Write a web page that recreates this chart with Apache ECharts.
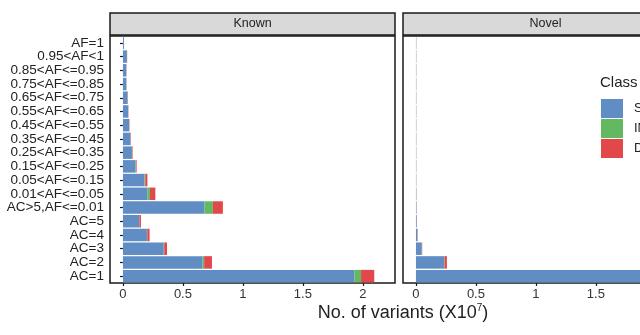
<!DOCTYPE html>
<html><head><meta charset="utf-8">
<script src="https://cdn.jsdelivr.net/npm/echarts@6/dist/echarts.min.js"></script>
<style>html,body{margin:0;padding:0;background:#fff}#c{width:640px;height:335px}</style>
</head><body><div id="c"></div>
<script>
const categories = ["AC=1","AC=2","AC=3","AC=4","AC=5","AC>5,AF<=0.01","0.01<AF<=0.05","0.05<AF<=0.15","0.15<AF<=0.25","0.25<AF<=0.35","0.35<AF<=0.45","0.45<AF<=0.55","0.55<AF<=0.65","0.65<AF<=0.75","0.75<AF<=0.85","0.85<AF<=0.95","0.95<AF<1","AF=1"];
const classNames = ["SNV","INS","DEL"];
const knownSNV = [1.93,0.664,0.34,0.2,0.135,0.68,0.205,0.18,0.105,0.075,0.062,0.052,0.043,0.038,0.028,0.028,0.033,0.008];
const knownINS = [0.055,0.013,0.004,0.003,0.002,0.07,0.02,0.006,0.003,0.002,0.001,0.001,0.001,0.001,0.001,0.001,0.001,0.0005];
const knownDEL = [0.11,0.065,0.023,0.019,0.013,0.083,0.045,0.018,0.006,0.004,0.003,0.002,0.002,0.002,0.001,0.001,0.001,0.0005];
const novelSNV = [2.05,0.235,0.048,0.012,0.006,0.004,0.003,0.002,0.002,0.002,0.002,0.002,0.002,0.002,0.002,0.002,0.002,0.002];
const novelINS = [0.03,0.003,0.001,0.001,0.0005,0.0005,0.0003,0.0003,0.0003,0.0003,0.0003,0.0003,0.0003,0.0003,0.0003,0.0003,0.0003,0.0003];
const novelDEL = [0.08,0.02,0.003,0.002,0.001,0.001,0.001,0.001,0.001,0.001,0.001,0.001,0.001,0.001,0.001,0.001,0.001,0.001];
const xTicks = [0,0.5,1,1.5,2];
const panelTitles = ["Known","Novel"];

const colors = ["#5F8DC4","#63B862","#E2474A"];
const chart = echarts.init(document.getElementById('c'), null, {renderer:'canvas'});
const FONT = 'Liberation Sans, Arial, sans-serif';
const grids = [
  {left:110, top:36, width:285, height:247, show:true, borderColor:'#1a1a1a', borderWidth:1.5, backgroundColor:'#fff', containLabel:false, outerBoundsMode:'none'},
  {left:403, top:36, width:285, height:247, show:true, borderColor:'#1a1a1a', borderWidth:1.5, backgroundColor:'#fff', containLabel:false, outerBoundsMode:'none'}
];
function xAxis(i){
  return {gridIndex:i, type:'value', min:-0.108, max:2.268,
    splitLine:{show:false}, axisLine:{show:false},
    axisTick:{show:true, customValues:xTicks, length:3, lineStyle:{color:'#1a1a1a', width:1.2}},
    axisLabel:{show:true, customValues:xTicks, color:'#333', fontSize:13, fontFamily:FONT, margin:5,
      formatter:v=>String(v)}};
}
function yAxis(i){
  return {gridIndex:i, type:'category', data:categories, boundaryGap:true,
    axisLine:{show:false},
    axisTick:{show:i===0, alignWithLabel:true, length:3, lineStyle:{color:'#1a1a1a', width:1.2}},
    axisLabel:{show:i===0, color:'#222', fontSize:13.5, fontFamily:FONT, margin:6, interval:0},
    splitLine:{show:false}};
}
const seriesData = [[knownSNV,knownINS,knownDEL],[novelSNV,novelINS,novelDEL]];
const series = [];
for (let g=0; g<2; g++){
  for (let k=0;k<3;k++){
    series.push({name:classNames[k], type:'bar', stack:'s'+g, xAxisIndex:g, yAxisIndex:g,
      data:seriesData[g][k], barCategoryGap:'9%', itemStyle:{color:colors[k]}, silent:true, animation:false});
  }
}
const graphics = [];
const stripX = [110, 403];
for (let g=0; g<2; g++){
  const x = stripX[g];
  graphics.push({type:'rect', shape:{x:x, y:13, width:285, height:22}, style:{fill:'#d9d9d9', stroke:'#1a1a1a', lineWidth:1.5}});
  graphics.push({type:'text', x:x+142.5, y:24, style:{text:panelTitles[g], fill:'#222', font:'12.5px '+FONT, textAlign:'center', textVerticalAlign:'middle'}});
}
graphics.push({type:'text', x:403, y:313, style:{
  text:'No. of variants (X10{s|7})', textAlign:'center', textVerticalAlign:'middle',
  font:'18px '+FONT, fill:'#222',
  rich:{s:{fontSize:10, verticalAlign:'top', padding:[0,0,9,0], fill:'#222', fontFamily:FONT}}}});
graphics.push({type:'text', x:600, y:83, style:{text:'Class', font:'15px '+FONT, fill:'#222', textVerticalAlign:'middle'}});

chart.setOption({
  animation:false,
  backgroundColor:'#fff',
  grid:grids,
  xAxis:[xAxis(0),xAxis(1)],
  yAxis:[yAxis(0),yAxis(1)],
  legend:{show:true, orient:'vertical', left:601, top:99, itemWidth:22, itemHeight:19, itemGap:1,
    icon:'rect', data:classNames, textStyle:{color:'#222', fontSize:13, fontFamily:FONT, padding:[0,0,0,6]}, padding:0},
  series:series,
  graphic:graphics
});
</script></body></html>
